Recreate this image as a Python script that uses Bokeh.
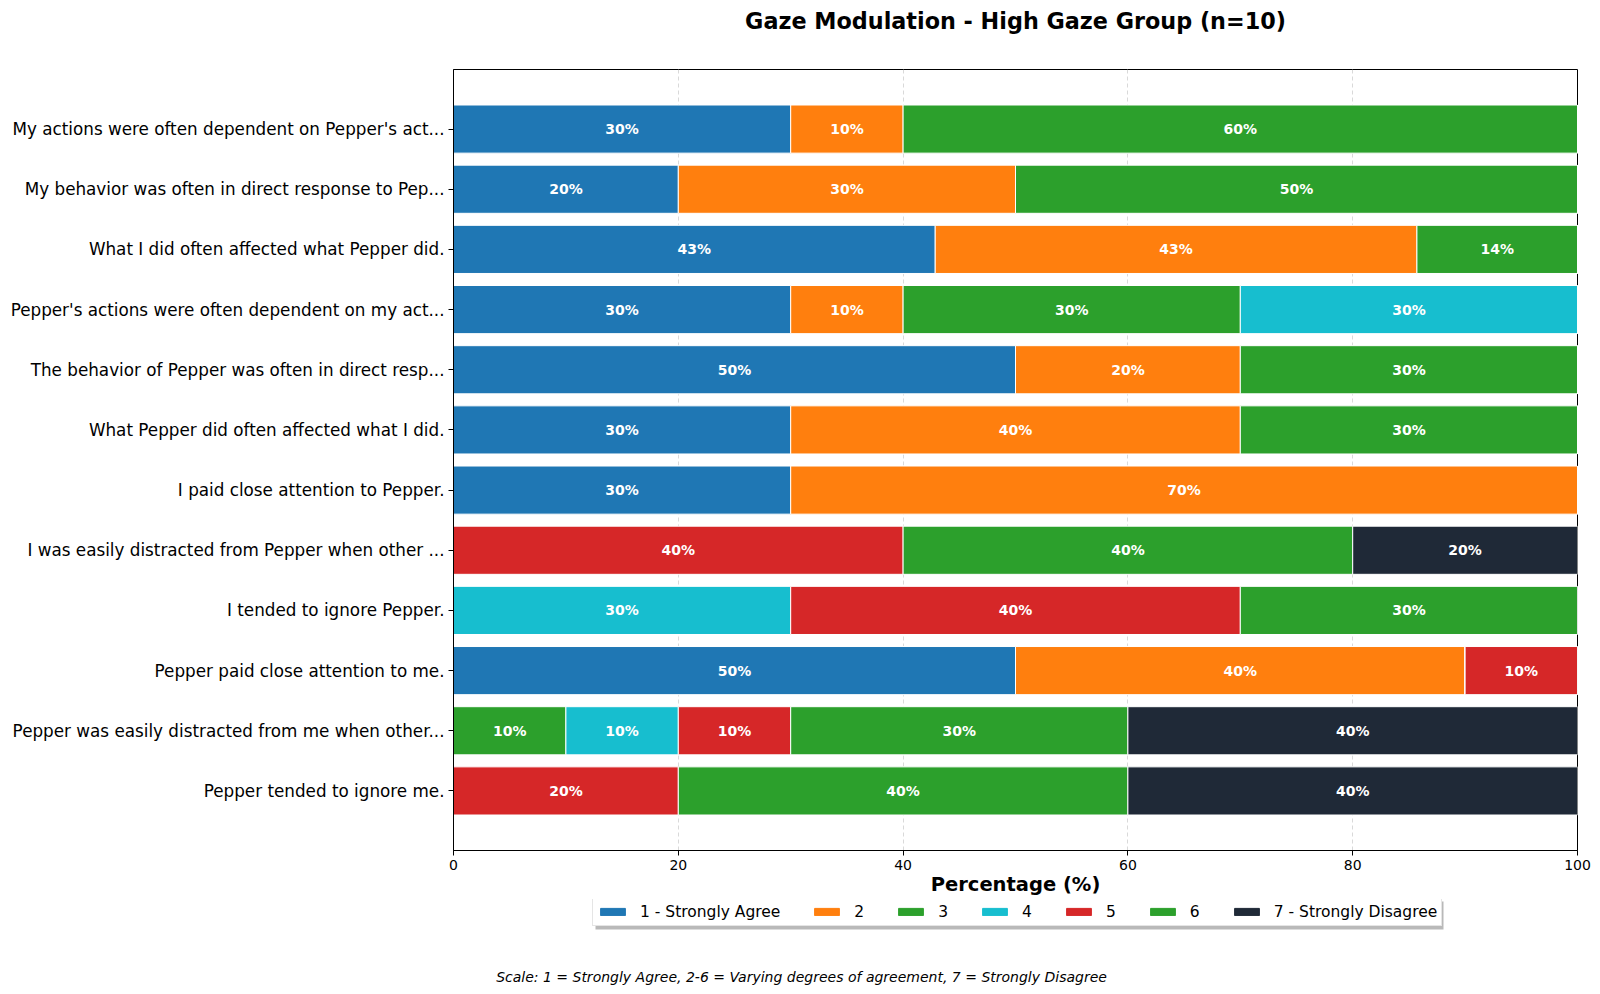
import numpy as np
from bokeh.plotting import figure
from bokeh.layouts import column
from bokeh.models import (ColumnDataSource, FixedTicker, Legend, LegendItem, Label,
                          Range1d, BoxAnnotation)
from bokeh.core.properties import value
from bokeh.embed import file_html
from bokeh.resources import INLINE

# ---------------- data ----------------
questions = [
    "My actions were often dependent on Pepper's act...",
    "My behavior was often in direct response to Pep...",
    "What I did often affected what Pepper did.",
    "Pepper's actions were often dependent on my act...",
    "The behavior of Pepper was often in direct resp...",
    "What Pepper did often affected what I did.",
    "I paid close attention to Pepper.",
    "I was easily distracted from Pepper when other ...",
    "I tended to ignore Pepper.",
    "Pepper paid close attention to me.",
    "Pepper was easily distracted from me when other...",
    "Pepper tended to ignore me.",
]
r1 = [30, 20, 42.857, 30, 50, 30, 30, 0, 0, 50, 0, 0]
r2 = [10, 30, 42.857, 10, 20, 40, 70, 0, 0, 40, 0, 0]
r3 = [60, 50, 14.286, 30, 30, 30, 0, 0, 0, 0, 10, 0]
r4 = [0, 0, 0, 30, 0, 0, 0, 0, 30, 0, 10, 0]
r5 = [0, 0, 0, 0, 0, 0, 0, 40, 40, 10, 10, 20]
r6 = [0, 0, 0, 0, 0, 0, 0, 40, 30, 0, 30, 40]
r7 = [0, 0, 0, 0, 0, 0, 0, 20, 0, 0, 40, 40]
series = [r1, r2, r3, r4, r5, r6, r7]
series_names = ["1 - Strongly Agree", "2", "3", "4", "5", "6", "7 - Strongly Disagree"]
colors = ["#1f77b4", "#ff7f0e", "#2ca02c", "#17becf", "#d62728", "#2ca02c", "#1f2937"]
x_ticks = [0, 20, 40, 60, 80, 100]
title_text = "Gaze Modulation - High Gaze Group (n=10)"
footer_text = "Scale: 1 = Strongly Agree, 2-6 = Varying degrees of agreement, 7 = Strongly Disagree"

FONT = "DejaVu Sans"
LEFT_B, RIGHT_B = 453, 23
FRAME_W = 1600 - LEFT_B - RIGHT_B
TOP_H = 69
MAIN_BOTTOM = 49
FRAME_H = 781
LEG_H = 994 - TOP_H - FRAME_H - MAIN_BOTTOM


def strip(h):
    # frame shares the main chart's left/right borders; x data units == page pixels
    f = figure(frame_width=FRAME_W, frame_height=h, output_backend="svg", toolbar_location=None,
               x_range=Range1d(LEFT_B, LEFT_B + FRAME_W), y_range=Range1d(h, 0),
               x_axis_location=None, y_axis_location=None,
               min_border_left=LEFT_B, min_border_right=RIGHT_B,
               min_border_top=0, min_border_bottom=0)
    f.grid.visible = False
    f.outline_line_color = None
    f.background_fill_color = "white"
    f.border_fill_color = "white"
    return f


# ---------------- title strip ----------------
pt = strip(TOP_H)
pt.add_layout(Label(x=1015, y=20.5, text=title_text, text_align="center",
                    text_baseline="middle", text_font=FONT, text_font_size="22.3px",
                    text_font_style="bold", text_color="black"))

# ---------------- main chart ----------------
n = len(questions)
ypos = np.arange(n)[::-1]  # first question at top

p = figure(frame_width=FRAME_W, frame_height=FRAME_H, output_backend="svg", toolbar_location=None,
           x_range=Range1d(0, 100), y_range=Range1d(-0.99, n - 1 + 0.99),
           min_border_left=LEFT_B, min_border_right=RIGHT_B, min_border_top=0,
           min_border_bottom=MAIN_BOTTOM)

left = np.zeros(n)
lx, ly, lt = [], [], []
sources = []
for vals, col in zip(series, colors):
    v = np.array(vals, dtype=float)
    src = ColumnDataSource(dict(y=ypos, left=left.copy(), right=left + v))
    sources.append(src)
    p.hbar(y="y", left="left", right="right", height=0.8, source=src,
           fill_color=col, line_color="white", line_width=1)
    for i in range(n):
        if v[i] > 0:
            lx.append(left[i] + v[i] / 2)
            ly.append(ypos[i])
            lt.append(f"{v[i]:.0f}%")
    left = left + v

lab_src = ColumnDataSource(dict(x=lx, y=ly, t=lt))
p.text(x="x", y="y", text="t", source=lab_src, text_align="center", text_baseline="middle",
       text_color="white", text_font=value(FONT), text_font_style="bold", text_font_size="14px")

p.xaxis.ticker = FixedTicker(ticks=x_ticks)
p.xaxis.axis_label = "Percentage (%)"
p.xaxis.axis_label_text_font = FONT
p.xaxis.axis_label_text_font_size = "19.5px"
p.xaxis.axis_label_text_font_style = "bold"
p.xaxis.axis_label_text_color = "black"
p.xaxis.axis_label_standoff = 0
p.xaxis.major_label_text_font = FONT
p.xaxis.major_label_text_font_size = "14px"
p.xaxis.major_label_text_color = "black"
p.yaxis.ticker = FixedTicker(ticks=list(ypos))
p.yaxis.major_label_overrides = {int(y): q for y, q in zip(ypos, questions)}
p.yaxis.major_label_text_font = FONT
p.yaxis.major_label_text_font_size = "16.8px"
p.yaxis.major_label_text_color = "black"
for ax in (p.xaxis, p.yaxis):
    ax.minor_tick_line_color = None
    ax.major_tick_out = 5
    ax.major_tick_in = 0
    ax.axis_line_color = "black"
    ax.major_tick_line_color = "black"
    ax.major_label_standoff = 4

p.ygrid.grid_line_color = None
p.xgrid.grid_line_color = "#d9d9d9"
p.xgrid.grid_line_dash = "4 3"
p.outline_line_color = "black"
p.outline_line_width = 1
p.background_fill_color = "white"

# ---------------- legend + footer strip ----------------
pl = strip(LEG_H)
items = []
for name, col, src in zip(series_names, colors, sources):
    r = pl.hbar(y="y", left="left", right="right", height=0.8, source=src,
                fill_color=col, line_color=col, visible=False)
    items.append(LegendItem(label=name, renderers=[r]))

LEG_X, LEG_W, LEG_HT = 592, 849, 27
pl.add_layout(BoxAnnotation(left=LEG_X + 3, right=LEG_X + LEG_W + 2, top=2, bottom=LEG_HT + 3,
                            fill_color="#7f7f7f", fill_alpha=0.55, line_color=None))
legend = Legend(items=items, orientation="horizontal", location=(LEG_X - LEFT_B, LEG_H - LEG_HT),
                label_text_font=FONT, label_text_font_size="15.5px", label_text_color="black",
                glyph_width=31, glyph_height=9, label_standoff=12, spacing=31,
                label_width=0, label_height=19,
                padding=4, margin=0, border_line_color="#cccccc", border_line_width=1,
                background_fill_color="white", background_fill_alpha=1.0,
                inactive_fill_alpha=0.0)
pl.add_layout(legend, "center")

pl.add_layout(Label(x=801, y=976 - (TOP_H + FRAME_H + MAIN_BOTTOM), text=footer_text,
                    text_align="center", text_baseline="middle", text_font=FONT,
                    text_font_style="italic", text_font_size="14px", text_color="black"))

layout = column(pt, p, pl, spacing=0)
open("out.html", "w").write(file_html(layout, INLINE))
